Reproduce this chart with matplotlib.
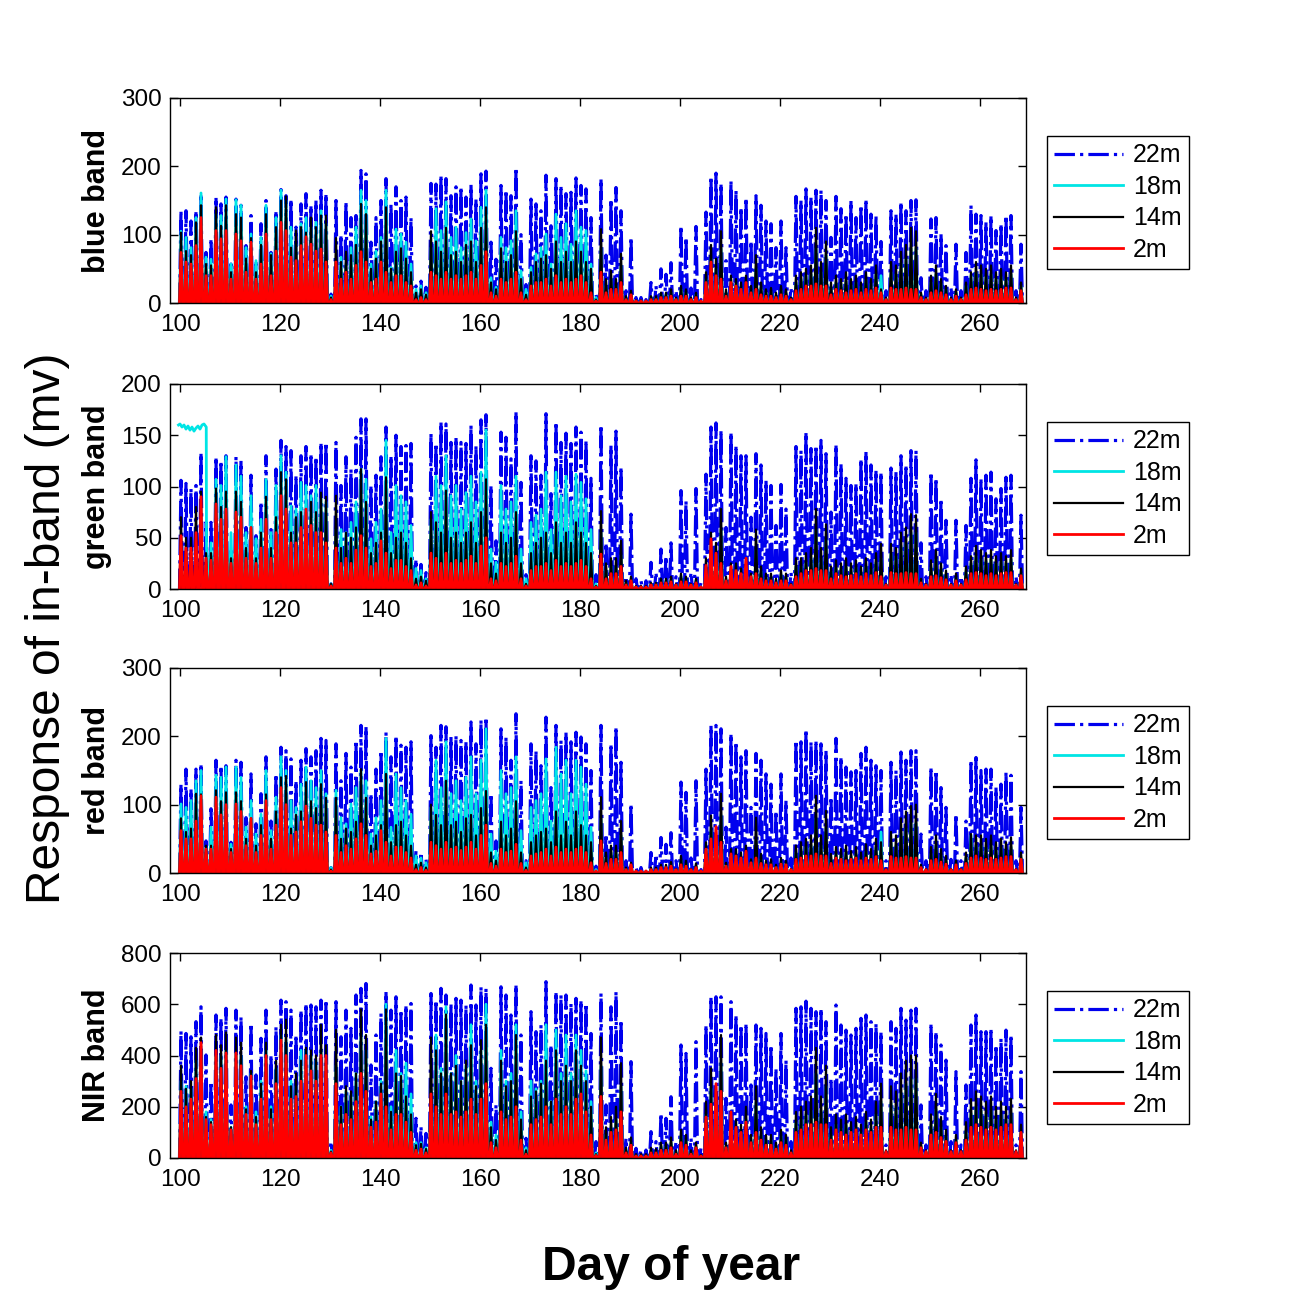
import numpy as np
import matplotlib
matplotlib.use("Agg")
import matplotlib.pyplot as plt

plt.rcParams['font.family'] = ['Liberation Sans', 'DejaVu Sans']

# daily peak response (mv), days 100..268, one value per day
FIRST_DAY = 100
N = None

blue_22 = [135, 135, 120, 135, 160, 74, 94, 155, 145, 155,
           57, 152, 143, 84, 128, 62, 116, 150, 74, 135,
           166, 157, 152, 111, 145, 160, 143, 150, 165, 160,
           13, 150, 100, 148, 125, 128, 194, 189, 89, 125,
           150, 182, 145, 170, 150, 155, 125, 25, 32, 23,
           175, 174, 187, 182, 157, 170, 170, 155, 173, 152,
           189, 193, 89, 64, 172, 165, 157, 198, 100, 27,
           152, 145, 135, 187, 113, 182, 172, 160, 162, 183,
           172, 167, 125, 13, 182, 70, 152, 169, 135, 18,
           96, 8, 8, 5, 30, 25, 50, 42, 59, 18,
           113, 96, 22, 112, 5, 133, 185, 190, 175, 62,
           179, 165, 140, 154, 91, 157, 143, 120, 116, 81,
           120, 81, 22, 156, 150, 167, 155, 165, 165, 150,
           96, 156, 138, 130, 150, 125, 143, 152, 130, 128,
           90, 18, 135, 130, 148, 135, 150, 151, 37, 18,
           123, 125, 101, 84, 22, 86, 18, 74, 143, 130,
           128, 118, 128, 106, 116, 128, 128, 18, 86]
blue_18 = [105, 96, 81, 125, 161, 67, 64, 130, 128, 152,
           57, 151, 143, 81, 101, 62, 96, 143, 72, 125,
           165, 150, 111, 86, 116, 125, 111, 118, 135, 116,
           10, 57, 67, 57, 81, 111, 165, 150, 57, 76,
           96, 165, 52, 108, 101, 89, 57, 20, 25, 15,
           81, 138, 106, 148, 96, 111, 81, 103, 123, 91,
           140, 165, 37, 23, 96, 81, 91, 135, 47, 20,
           52, 72, 81, 101, 57, 130, 96, 116, 86, 135,
           111, 106, 57, 8, 80, 25, 35, 25, 55, 8,
           12, 3, 3, 2, 8, 8, 12, 12, 15, 6,
           20, 15, 6, 12, 2, 35, 65, 50, 80, 15,
           30, 28, 22, 30, 18, 50, 22, 15, 16, 10,
           18, 14, 5, 30, 35, 40, 42, 80, 45, 70,
           22, 30, 28, 32, 26, 30, 24, 34, 28, 42,
           40, 6, 45, 42, 58, 65, 80, 80, 12, 6,
           30, 42, 28, 20, 6, 15, 6, 25, 40, 45,
           42, 38, 42, 35, 38, 35, 42, 6, 25]
blue_14 = [103, 76, 70, 118, 143, 57, 55, 140, 113, 143,
           45, 130, 125, 65, 95, 45, 85, 130, 70, 111,
           150, 156, 81, 106, 111, 103, 125, 111, 128, 128,
           8, 95, 60, 75, 70, 85, 145, 130, 50, 65,
           90, 140, 50, 75, 80, 65, 45, 15, 20, 12,
           105, 90, 75, 110, 70, 75, 60, 85, 90, 60,
           110, 140, 30, 20, 80, 60, 70, 105, 35, 12,
           45, 60, 65, 70, 50, 90, 60, 75, 60, 90,
           75, 60, 50, 5, 108, 35, 47, 35, 72, 10,
           18, 4, 4, 3, 10, 10, 15, 15, 20, 8,
           25, 20, 8, 15, 3, 45, 85, 65, 105, 20,
           40, 35, 30, 40, 25, 70, 30, 20, 22, 15,
           25, 20, 8, 40, 45, 50, 55, 110, 60, 90,
           30, 40, 35, 45, 35, 40, 30, 45, 35, 55,
           20, 8, 60, 55, 75, 85, 110, 105, 15, 8,
           40, 55, 35, 25, 8, 20, 8, 30, 45, 60,
           55, 50, 55, 45, 50, 45, 55, 8, 30]
blue_2 = [74, 60, 57, 84, 125, 40, 40, 106, 94, 106,
          35, 101, 91, 45, 89, 35, 57, 101, 40, 76,
          118, 106, 67, 62, 84, 97, 86, 76, 79, 60,
          5, 60, 35, 45, 35, 55, 75, 60, 30, 35,
          60, 45, 30, 40, 40, 30, 25, 5, 8, 5,
          45, 40, 35, 45, 35, 40, 35, 40, 45, 35,
          55, 75, 15, 10, 35, 30, 35, 45, 15, 5,
          25, 30, 30, 35, 25, 40, 30, 35, 30, 35,
          40, 30, 15, 3, 45, 15, 20, 20, 30, 5,
          12, 3, 3, 3, 5, 5, 8, 8, 10, 5,
          10, 10, 5, 8, 3, 30, 60, 40, 35, 10,
          30, 25, 20, 30, 15, 20, 12, 10, 10, 8,
          12, 10, 5, 18, 20, 25, 25, 28, 25, 25,
          12, 20, 18, 15, 18, 20, 15, 20, 18, 22,
          15, 5, 22, 20, 20, 22, 20, 20, 8, 5,
          15, 18, 15, 12, 5, 10, 5, 12, 20, 22,
          20, 18, 20, 18, 20, 22, 22, 5, 18]

green_22 = [106, 103, 98, 101, 133, 65, 65, 129, 125, 130,
            40, 129, 125, 60, 111, 52, 85, 130, 58, 117,
            145, 139, 135, 111, 130, 139, 132, 129, 143, 143,
            5, 143, 101, 129, 117, 148, 166, 166, 101, 111,
            129, 158, 130, 150, 139, 140, 142, 29, 24, 16,
            152, 142, 163, 161, 143, 148, 143, 142, 160, 140,
            165, 170, 101, 47, 153, 148, 127, 173, 104, 14,
            130, 125, 111, 171, 93, 163, 143, 152, 142, 158,
            153, 145, 108, 14, 160, 45, 140, 154, 119, 12,
            73, 10, 8, 8, 26, 16, 39, 32, 45, 12,
            96, 86, 16, 98, 6, 112, 158, 162, 155, 60,
            153, 140, 130, 130, 70, 132, 121, 106, 101, 62,
            102, 78, 16, 139, 135, 153, 137, 140, 145, 132,
            75, 141, 122, 108, 101, 103, 127, 134, 121, 116,
            114, 12, 118, 114, 130, 121, 135, 135, 45, 12,
            114, 108, 88, 67, 14, 67, 12, 62, 108, 126,
            108, 111, 114, 88, 98, 109, 111, 12, 72]
# 18m green: saturated until day 105, then daily peaks
green_18_sat_day = [99.7, 100.0, 100.4, 100.8, 101.2, 101.6, 102.0, 102.4,
                    102.8, 103.2, 103.6, 104.0, 104.4, 104.8, 105.25, 105.3]
green_18_sat_val = [160, 161, 158, 160, 156, 159, 155, 158,
                    154, 157, 159, 156, 160, 161, 158, 40]
green_18 = [N, N, N, N, N, N, 45, 107, 101, 129,
            55, 121, 110, 55, 91, 49, 68, 107, 55, 101,
            130, 114, 81, 78, 104, 101, 91, 101, 88, 85,
            5, 58, 58, 55, 65, 85, 117, 107, 49, 65,
            78, 145, 55, 101, 91, 85, 62, 20, 18, 10,
            68, 110, 101, 130, 91, 101, 78, 94, 110, 85,
            114, 155, 39, 26, 101, 78, 85, 110, 39, 10,
            65, 72, 78, 114, 58, 114, 91, 110, 85, 112,
            104, 88, 58, 5, 55, 18, 22, 22, 33, 6,
            9, 2, 2, 2, 5, 5, 8, 8, 9, 4,
            12, 9, 4, 8, 2, 22, 42, 34, 58, 9,
            19, 19, 15, 22, 11, 38, 17, 11, 11, 8,
            14, 11, 4, 22, 22, 26, 30, 58, 30, 48,
            17, 21, 19, 22, 19, 21, 17, 22, 19, 26,
            30, 4, 35, 32, 42, 45, 55, 55, 8, 4,
            21, 29, 19, 14, 4, 11, 4, 17, 25, 32,
            29, 27, 29, 25, 27, 25, 29, 4, 15]
green_14 = [70, 50, 50, 80, 95, 35, 35, 98, 80, 95,
            30, 95, 85, 40, 60, 30, 55, 90, 40, 70,
            114, 107, 55, 70, 75, 75, 85, 75, 94, 90,
            5, 91, 40, 55, 50, 60, 117, 85, 35, 45,
            55, 109, 35, 50, 55, 45, 30, 10, 12, 8,
            75, 65, 55, 96, 50, 55, 45, 55, 65, 45,
            75, 107, 25, 15, 55, 45, 50, 75, 25, 5,
            35, 45, 50, 55, 35, 65, 45, 55, 45, 65,
            55, 45, 35, 3, 76, 25, 30, 30, 47, 8,
            12, 3, 3, 3, 6, 6, 10, 10, 12, 5,
            15, 12, 5, 10, 2, 30, 55, 45, 78, 12,
            25, 25, 20, 30, 15, 58, 22, 15, 15, 10,
            18, 15, 5, 30, 30, 35, 40, 78, 40, 63,
            22, 28, 25, 30, 25, 28, 22, 30, 25, 35,
            44, 5, 44, 40, 55, 60, 73, 72, 10, 5,
            28, 38, 25, 18, 5, 15, 5, 22, 32, 42,
            38, 35, 38, 32, 35, 32, 38, 5, 20]
green_2 = [52, 40, 40, 55, 90, 30, 28, 83, 68, 78,
           25, 75, 70, 30, 60, 25, 40, 68, 30, 55,
           91, 78, 45, 45, 60, 78, 62, 55, 55, 45,
           3, 40, 25, 30, 25, 38, 52, 40, 22, 25,
           47, 35, 20, 28, 28, 22, 18, 4, 6, 3,
           35, 30, 25, 35, 25, 28, 25, 28, 32, 25,
           42, 50, 10, 8, 25, 22, 25, 32, 10, 3,
           18, 22, 22, 25, 18, 28, 22, 25, 22, 25,
           28, 22, 10, 2, 34, 10, 15, 15, 22, 4,
           8, 2, 2, 2, 4, 4, 6, 6, 7, 4,
           7, 7, 4, 6, 2, 23, 49, 35, 25, 8,
           22, 18, 15, 30, 12, 15, 10, 8, 8, 6,
           8, 8, 4, 12, 15, 18, 18, 20, 18, 18,
           10, 15, 13, 12, 13, 15, 12, 15, 13, 16,
           12, 4, 16, 15, 15, 16, 15, 15, 6, 4,
           12, 13, 11, 9, 4, 8, 4, 9, 15, 16,
           15, 13, 15, 13, 15, 16, 16, 4, 13]

red_22 = [130, 152, 123, 152, 160, 47, 94, 165, 157, 157,
          45, 165, 162, 81, 145, 72, 116, 170, 76, 145,
          184, 179, 167, 135, 165, 182, 170, 179, 197, 194,
          8, 189, 135, 175, 155, 194, 216, 214, 116, 152,
          179, 206, 170, 201, 187, 184, 192, 32, 30, 20,
          201, 184, 216, 214, 199, 201, 194, 192, 221, 189,
          224, 228, 116, 47, 211, 199, 165, 233, 135, 18,
          189, 179, 157, 228, 125, 216, 194, 206, 192, 206,
          199, 189, 150, 10, 216, 57, 189, 214, 162, 18,
          101, 8, 8, 5, 30, 27, 52, 42, 59, 18,
          133, 118, 22, 135, 5, 152, 216, 216, 211, 67,
          204, 192, 170, 179, 96, 175, 165, 145, 130, 91,
          145, 106, 22, 194, 192, 210, 192, 194, 189, 179,
          111, 197, 170, 155, 148, 150, 175, 184, 165, 157,
          150, 18, 162, 150, 177, 165, 179, 179, 57, 18,
          155, 150, 125, 96, 20, 86, 18, 76, 165, 169,
          150, 152, 152, 125, 130, 148, 143, 18, 96]
red_18 = [101, 96, 106, 135, 150, 37, 67, 143, 140, 155,
          42, 155, 140, 67, 106, 57, 86, 150, 62, 111,
          170, 150, 106, 96, 130, 155, 135, 125, 150, 116,
          8, 121, 81, 72, 101, 125, 150, 135, 57, 81,
          106, 197, 67, 145, 125, 106, 86, 25, 22, 15,
          96, 165, 125, 192, 116, 135, 106, 140, 170, 116,
          165, 211, 57, 32, 150, 116, 125, 170, 62, 15,
          96, 106, 116, 167, 76, 184, 145, 165, 116, 165,
          155, 130, 67, 5, 80, 22, 30, 30, 55, 6,
          11, 2, 2, 2, 6, 6, 9, 9, 12, 4,
          18, 13, 4, 10, 2, 34, 62, 48, 85, 11,
          26, 26, 22, 30, 15, 48, 20, 13, 15, 9,
          16, 13, 4, 30, 34, 38, 40, 80, 40, 66,
          20, 28, 26, 30, 24, 28, 22, 31, 26, 37,
          60, 4, 44, 40, 58, 65, 73, 73, 9, 4,
          28, 40, 26, 18, 4, 13, 4, 22, 55, 40,
          40, 37, 40, 33, 37, 33, 38, 4, 22]
red_14 = [80, 60, 65, 116, 115, 40, 40, 121, 105, 118,
          35, 118, 105, 50, 80, 40, 70, 115, 50, 90,
          140, 142, 65, 85, 90, 133, 105, 95, 130, 110,
          5, 110, 50, 65, 60, 75, 152, 110, 40, 55,
          70, 145, 45, 70, 75, 55, 40, 12, 15, 8,
          100, 85, 70, 135, 70, 75, 60, 80, 85, 55,
          95, 120, 30, 18, 75, 55, 65, 105, 30, 8,
          45, 55, 60, 65, 45, 90, 55, 75, 55, 90,
          70, 55, 45, 3, 111, 30, 40, 40, 76, 8,
          15, 3, 3, 3, 8, 8, 12, 12, 16, 6,
          25, 18, 6, 14, 2, 45, 84, 65, 116, 15,
          35, 35, 30, 40, 20, 81, 28, 18, 20, 12,
          22, 18, 6, 40, 45, 50, 55, 113, 55, 91,
          28, 38, 35, 40, 32, 38, 30, 42, 35, 50,
          45, 6, 60, 55, 80, 90, 98, 100, 12, 6,
          38, 55, 35, 25, 6, 18, 6, 30, 57, 55,
          55, 50, 55, 45, 50, 45, 52, 6, 30]
red_2 = [62, 50, 50, 76, 113, 35, 35, 111, 85, 100,
         30, 101, 90, 40, 80, 30, 55, 106, 35, 70,
         125, 100, 55, 60, 75, 98, 80, 70, 70, 60,
         3, 55, 30, 40, 35, 50, 72, 55, 28, 32,
         62, 45, 25, 38, 38, 30, 22, 5, 8, 4,
         45, 40, 35, 45, 35, 38, 33, 38, 45, 35,
         55, 70, 14, 10, 35, 30, 32, 42, 14, 4,
         25, 28, 30, 35, 25, 38, 30, 35, 30, 35,
         38, 30, 15, 3, 47, 14, 20, 20, 30, 5,
         12, 3, 3, 3, 5, 5, 8, 8, 10, 5,
         12, 10, 5, 8, 3, 35, 50, 68, 45, 10,
         28, 25, 22, 32, 15, 22, 14, 12, 12, 8,
         13, 12, 5, 20, 22, 25, 25, 28, 25, 25,
         14, 22, 20, 18, 20, 22, 18, 22, 20, 24,
         18, 5, 24, 22, 22, 24, 22, 22, 8, 5,
         18, 20, 16, 13, 5, 12, 5, 14, 22, 25,
         22, 20, 22, 20, 22, 24, 24, 5, 20]

nir_22 = [495, 486, 473, 532, 590, 402, 298, 558, 545, 584,
          207, 577, 551, 317, 525, 324, 467, 577, 402, 512,
          616, 610, 577, 480, 577, 603, 597, 590, 616, 616,
          64, 610, 473, 577, 506, 636, 662, 681, 363, 480,
          564, 649, 577, 629, 577, 597, 603, 155, 122, 96,
          642, 616, 662, 636, 603, 623, 616, 597, 675, 597,
          668, 662, 350, 207, 668, 636, 558, 677, 480, 77,
          571, 493, 519, 688, 441, 649, 636, 636, 603, 623,
          616, 603, 486, 64, 642, 207, 590, 649, 538, 77,
          376, 38, 31, 31, 103, 64, 174, 155, 239, 64,
          441, 408, 77, 454, 38, 519, 629, 629, 629, 233,
          610, 558, 519, 525, 285, 519, 506, 486, 441, 350,
          486, 382, 64, 584, 590, 612, 584, 571, 584, 532,
          311, 597, 519, 499, 480, 506, 545, 558, 532, 525,
          493, 51, 532, 506, 584, 538, 577, 584, 207, 51,
          525, 493, 441, 382, 64, 337, 51, 285, 519, 558,
          493, 493, 506, 441, 467, 499, 480, 51, 337]
nir_18 = [300, 280, 270, 380, 420, 180, 150, 400, 400, 420,
          120, 410, 400, 200, 330, 180, 300, 420, 200, 350,
          480, 460, 300, 280, 420, 420, 400, 380, 420, 380,
          30, 360, 200, 260, 250, 330, 480, 420, 160, 220,
          300, 600, 200, 420, 330, 370, 250, 60, 60, 40,
          270, 480, 350, 590, 330, 400, 300, 360, 520, 300,
          420, 600, 140, 90, 420, 300, 330, 520, 180, 40,
          300, 270, 300, 520, 220, 500, 330, 480, 330, 480,
          420, 340, 220, 20, 360, 90, 120, 150, 280, 30,
          60, 10, 10, 10, 30, 25, 45, 45, 60, 22,
          85, 70, 22, 45, 8, 170, 270, 215, 370, 45,
          120, 115, 100, 150, 70, 215, 90, 70, 70, 45,
          85, 70, 22, 140, 150, 170, 185, 330, 185, 280,
          90, 130, 115, 130, 105, 120, 100, 140, 115, 170,
          220, 22, 215, 200, 255, 290, 310, 310, 45, 22,
          130, 190, 120, 85, 22, 70, 22, 105, 175, 200,
          185, 170, 185, 150, 170, 150, 175, 22, 100]
nir_14 = [360, 270, 300, 430, 470, 160, 140, 480, 440, 490,
          120, 470, 450, 190, 340, 160, 290, 450, 190, 380,
          520, 540, 280, 330, 380, 430, 420, 400, 520, 440,
          25, 500, 200, 280, 260, 330, 580, 480, 150, 220,
          290, 580, 180, 330, 320, 240, 170, 50, 55, 35,
          470, 420, 330, 560, 330, 360, 300, 380, 440, 280,
          460, 520, 120, 70, 380, 280, 300, 480, 150, 30,
          240, 260, 290, 380, 220, 420, 300, 360, 300, 420,
          360, 300, 200, 15, 470, 120, 160, 200, 370, 40,
          80, 15, 15, 15, 40, 35, 60, 60, 80, 30,
          110, 90, 30, 60, 12, 220, 350, 280, 480, 60,
          160, 150, 130, 200, 90, 280, 120, 90, 90, 60,
          110, 90, 30, 180, 200, 220, 240, 430, 240, 360,
          120, 170, 150, 170, 140, 160, 130, 180, 150, 220,
          290, 30, 280, 260, 330, 380, 400, 400, 60, 30,
          170, 250, 160, 110, 30, 90, 30, 140, 230, 260,
          240, 220, 240, 200, 220, 200, 230, 30, 130]
nir_2 = [260, 200, 230, 310, 450, 150, 130, 420, 350, 410,
         110, 410, 360, 170, 320, 130, 230, 400, 150, 290,
         460, 400, 230, 240, 300, 400, 340, 300, 400, 400,
         20, 290, 130, 170, 150, 220, 330, 260, 120, 140,
         250, 200, 110, 170, 170, 140, 100, 30, 35, 20,
         250, 200, 170, 250, 170, 180, 160, 180, 230, 170,
         230, 290, 60, 40, 180, 150, 160, 200, 70, 15,
         130, 150, 160, 200, 130, 230, 170, 200, 170, 230,
         250, 180, 90, 10, 240, 70, 100, 110, 180, 20,
         50, 8, 8, 8, 20, 20, 30, 30, 40, 15,
         60, 50, 15, 40, 8, 160, 210, 290, 260, 40,
         180, 120, 100, 140, 60, 100, 70, 50, 50, 35,
         60, 50, 20, 100, 110, 130, 130, 140, 130, 130,
         70, 110, 100, 90, 100, 110, 90, 110, 100, 120,
         120, 25, 120, 110, 110, 120, 110, 110, 40, 25,
         90, 100, 80, 65, 25, 60, 25, 70, 120, 130,
         120, 110, 120, 110, 120, 130, 130, 25, 100]

band_names = ['blue band', 'green band', 'red band', 'NIR band']
heights = ['22m', '18m', '14m', '2m']
y_max = [300, 200, 300, 800]
y_step = [100, 50, 100, 200]
panels = [[blue_22, blue_18, blue_14, blue_2],
          [green_22, green_18, green_14, green_2],
          [red_22, red_18, red_14, red_2],
          [nir_22, nir_18, nir_14, nir_2]]

# fraction of the day for sunrise / peak / sunset of each daily cycle
SUNRISE, NOON, SUNSET = -0.1, 0.2, 0.5


def daily_cycle(peaks):
    xs, ys = [], []
    for i, p in enumerate(peaks):
        if p is None:
            continue
        d = FIRST_DAY + i
        xs += [d + SUNRISE, d + NOON, d + SUNSET]
        ys += [0, p, 0]
    return xs, ys


colors = ['#0000ee', '#00e5e5', 'black', '#ff0000']
styles = ['-.', '-', '-', '-']
widths = [2.3, 2.0, 1.6, 2.0]

fig = plt.figure(figsize=(13.01, 13.01), dpi=100)
W, H = 1301.0, 1301.0
tops = [98, 384, 668, 953]

for k in range(4):
    top = tops[k]
    ax = fig.add_axes([170 / W, (H - top - 205) / H, 856 / W, 205 / H])
    for j in range(4):
        xs, ys = daily_cycle(panels[k][j])
        if k == 1 and j == 1:
            xs = green_18_sat_day + xs
            ys = green_18_sat_val + ys
        ax.plot(xs, ys, color=colors[j], linestyle=styles[j],
                linewidth=widths[j], label=heights[j])
    ax.set_xlim(98, 269.2)
    ax.set_ylim(0, y_max[k])
    ax.set_xticks(np.arange(100, 261, 20))
    ax.set_yticks(np.arange(0, y_max[k] + 1, y_step[k]))
    ax.tick_params(direction='in', top=True, right=True, length=6,
                   width=1, labelsize=17.5, pad=6)
    ax.tick_params(axis='x', pad=8)
    for s in ax.spines.values():
        s.set_linewidth(1)
    ax.set_ylabel(band_names[k], fontsize=22, fontweight='bold')
    ax.yaxis.set_label_coords(-0.068, 0.5)
    leg = ax.legend(loc='upper left', bbox_to_anchor=(1.0245, 0.815),
                    borderaxespad=0, fontsize=18, handlelength=2.75,
                    labelspacing=0.3, fancybox=False, framealpha=1,
                    edgecolor='black', borderpad=0.3, handletextpad=0.4)
    leg.get_frame().set_linewidth(1)

fig.text(48 / W, 1 - 628 / H, 'Response of in-band (mv)', rotation=90,
         ha='center', va='center', fontsize=34.5)
fig.text(671 / W, 1 - 1267 / H, 'Day of year', ha='center', va='center',
         fontsize=34.5, fontweight='bold')

fig.savefig('out.png', dpi=100)
